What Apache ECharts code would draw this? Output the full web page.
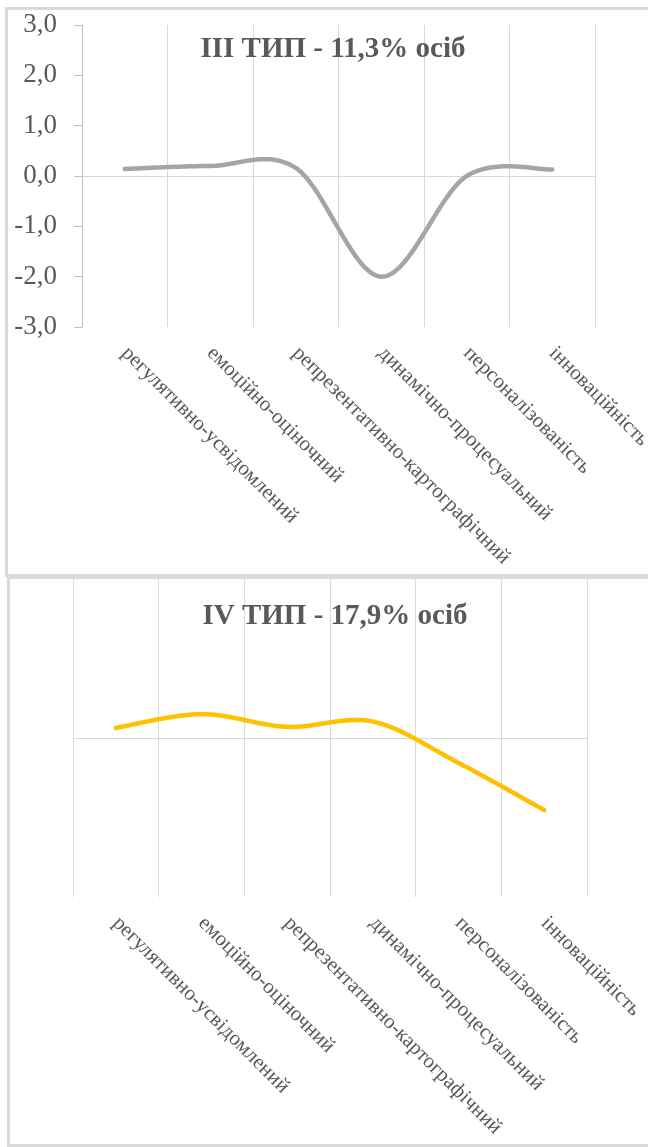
<!DOCTYPE html>
<html>
<head>
<meta charset="utf-8">
<script src="https://cdn.jsdelivr.net/npm/echarts@6/dist/echarts.min.js"></script>
<style>
  html, body { margin: 0; padding: 0; background: #fff; }
  #chart { width: 648px; height: 1147px; }
</style>
</head>
<body>
<div id="chart"></div>
<script>
// Profile components (shared by both panels)
const categories = [
  'регулятивно-усвідомлений',
  'емоційно-оціночний',
  'репрезентативно-картографічний',
  'динамічно-процесуальний',
  'персоналізованість',
  'інноваційність'
];

// Panel titles
const titleType3 = 'III ТИП - 11,3% осіб';
const titleType4 = 'IV ТИП - 17,9% осіб';

// Standardised scores per component
const type3Values = [0.14, 0.20, 0.16, -2.00, 0.00, 0.13];
const type4Values = [0.19, 0.45, 0.21, 0.31, -0.47, -1.36];

// Value axis range and step
const yMin = -3;
const yMax = 3;
const yStep = 1;

const textColor = '#595959';
const gridColor = '#d9d9d9';
const serif = '"Liberation Serif", "Times New Roman", serif';

const fmtComma = v => v.toFixed(1).replace('.', ',');

const chart = echarts.init(document.getElementById('chart'), null, { renderer: 'canvas' });

// Category axis with vertical gridlines at category boundaries, labels at the bottom
function categoryAxis(gridIndex) {
  return {
    type: 'category',
    gridIndex: gridIndex,
    data: categories,
    boundaryGap: true,
    axisLine: { show: false },
    axisTick: { show: false },
    splitLine: { show: true, lineStyle: { color: gridColor, width: 1 } },
    axisLabel: {
      interval: 0,
      rotate: -45,
      margin: 23,
      color: textColor,
      fontFamily: serif,
      fontSize: 21
    }
  };
}

// Helper value axis whose only visible split line is the zero line
function zeroAxis(gridIndex) {
  return {
    type: 'value',
    gridIndex: gridIndex,
    position: 'left',
    min: yMin,
    max: yMax,
    interval: 3,
    axisLine: { show: false },
    axisTick: { show: false },
    axisLabel: { show: false },
    splitLine: {
      show: true,
      showMinLine: false,
      showMaxLine: false,
      lineStyle: { color: gridColor, width: 1.2 }
    }
  };
}

// Smoothed profile curve: cubic Bezier through the points (Catmull-Rom tangents),
// positioned via the axes' coordinate conversion.
function smoothCurve(values, color, xAxisIndex, yAxisIndex) {
  return {
    type: 'custom',
    xAxisIndex: xAxisIndex,
    yAxisIndex: yAxisIndex,
    data: values.map((v, i) => [i, v]),
    encode: { x: 0, y: 1 },
    z: 5,
    renderItem: function (params, api) {
      if (params.dataIndex !== 0) return null;
      const pts = values.map((v, i) => api.coord([i, v]));
      const n = pts.length;
      const out = [pts[0]];
      const steps = 40;
      for (let i = 0; i < n - 1; i++) {
        const p0 = pts[Math.max(i - 1, 0)];
        const p1 = pts[i];
        const p2 = pts[i + 1];
        const p3 = pts[Math.min(i + 2, n - 1)];
        const c1 = [p1[0] + (p2[0] - p0[0]) / 6, p1[1] + (p2[1] - p0[1]) / 6];
        const c2 = [p2[0] - (p3[0] - p1[0]) / 6, p2[1] - (p3[1] - p1[1]) / 6];
        for (let s = 1; s <= steps; s++) {
          const t = s / steps, u = 1 - t;
          const a = u * u * u, b = 3 * u * u * t, c = 3 * u * t * t, d = t * t * t;
          out.push([
            a * p1[0] + b * c1[0] + c * c2[0] + d * p2[0],
            a * p1[1] + b * c1[1] + c * c2[1] + d * p2[1]
          ]);
        }
      }
      return {
        type: 'polyline',
        shape: { points: out },
        style: { stroke: color, lineWidth: 4.5, fill: null, lineCap: 'round', lineJoin: 'round' }
      };
    }
  };
}

chart.setOption({
  animation: false,
  backgroundColor: '#fff',
  title: [
    {
      text: titleType3,
      left: 328,
      top: 30,
      textAlign: 'center',
      textStyle: { color: textColor, fontFamily: serif, fontWeight: 'bold', fontSize: 29 }
    },
    {
      text: titleType4,
      left: 330,
      top: 597,
      textAlign: 'center',
      textStyle: { color: textColor, fontFamily: serif, fontWeight: 'bold', fontSize: 29 }
    }
  ],
  graphic: [
    {
      type: 'rect',
      silent: true,
      shape: { x: 6.5, y: 8.5, width: 700, height: 567 },
      style: { fill: 'none', stroke: '#d9d9d9', lineWidth: 3 }
    },
    {
      type: 'rect',
      silent: true,
      shape: { x: 8.5, y: 577.5, width: 700, height: 568 },
      style: { fill: 'none', stroke: '#d9d9d9', lineWidth: 3 }
    }
  ],
  grid: [
    { left: 82, top: 25, width: 513, height: 302, outerBoundsMode: 'none', containLabel: false },
    { left: 73, top: 579, width: 514, height: 318, outerBoundsMode: 'none', containLabel: false }
  ],
  xAxis: [categoryAxis(0), categoryAxis(1)],
  yAxis: [
    {
      type: 'value',
      gridIndex: 0,
      min: yMin,
      max: yMax,
      interval: yStep,
      axisLine: { show: true, lineStyle: { color: '#bfbfbf', width: 1 } },
      axisTick: { show: true, length: 8, lineStyle: { color: '#bfbfbf' } },
      splitLine: { show: false },
      axisLabel: {
        margin: 25,
        color: textColor,
        fontFamily: serif,
        fontSize: 27,
        formatter: fmtComma
      }
    },
    {
      type: 'value',
      gridIndex: 1,
      min: yMin,
      max: yMax,
      interval: yStep,
      axisLine: { show: false },
      axisTick: { show: false },
      splitLine: { show: false },
      axisLabel: { show: false }
    },
    zeroAxis(0),
    zeroAxis(1)
  ],
  series: [
    smoothCurve(type3Values, '#a5a5a5', 0, 0),
    smoothCurve(type4Values, '#ffc000', 1, 1)
  ]
});
</script>
</body>
</html>
